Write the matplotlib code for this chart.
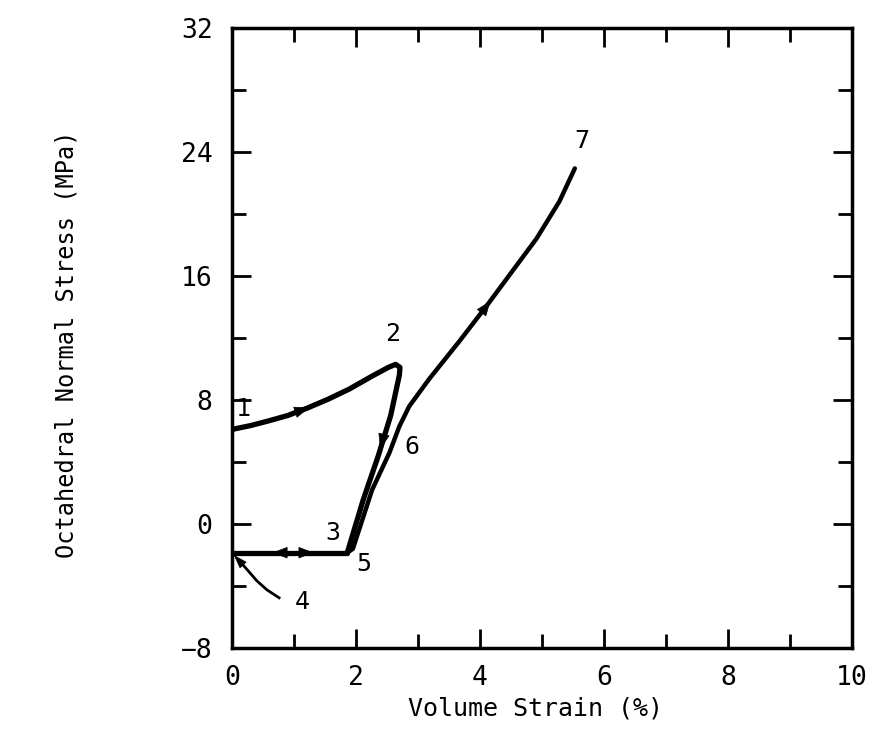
import matplotlib
matplotlib.use('Agg')
import matplotlib.pyplot as plt
from matplotlib.ticker import MultipleLocator

# loading path 1 -> 2 -> 3
load_x = [0.0, 0.3, 0.57, 0.9, 1.21, 1.55, 1.89, 2.26, 2.52, 2.64, 2.71, 2.70, 2.56, 2.36, 2.12, 1.86]
load_y = [6.1, 6.35, 6.63, 7.0, 7.47, 8.05, 8.7, 9.54, 10.1, 10.3, 10.1, 9.6, 7.0, 4.4, 1.6, -1.85]

# unloading 3 -> 4, reloading 4 -> 5 along the same line
flat_x = [1.86, 0.0]
flat_y = [-1.85, -1.85]

# reloading 5 -> 6 -> 7
reload_x = [1.86, 1.95, 2.26, 2.54, 2.70, 2.86, 3.18, 3.67, 4.15, 4.52, 4.91, 5.28, 5.53]
reload_y = [-1.85, -1.6, 2.2, 4.6, 6.3, 7.6, 9.35, 11.8, 14.3, 16.3, 18.4, 20.8, 22.94]

# leader pointing at 4
lead_x = [0.76, 0.565, 0.40, 0.275, 0.16]
lead_y = [-4.76, -4.25, -3.66, -3.08, -2.56]

pt_labels = ['1', '2', '3', '4', '5', '6', '7']
pt_x = [0.18, 2.59, 1.62, 1.13, 2.13, 2.90, 5.64]
pt_y = [7.4, 12.26, -0.55, -5.0, -2.6, 5.0, 24.7]

# arrow heads: (x, y, dx, dy)
arrows = [
    (1.05, 7.25, 0.2, 0.27),
    (2.44, 5.6, -0.05, -0.75),
    (0.85, -1.85, -0.2, 0.0),
    (1.12, -1.85, 0.2, 0.0),
    (4.03, 13.65, 0.14, 0.75),
]

plt.rcParams['font.family'] = 'DejaVu Sans Mono'

fig = plt.figure(figsize=(8.74, 7.40), dpi=100)
ax = fig.add_axes([0.2654, 0.1243, 0.7094, 0.8379])

ax.plot(load_x, load_y, color='black', lw=3.8, solid_capstyle='round', solid_joinstyle='round')
ax.plot(flat_x, flat_y, color='black', lw=3.8, solid_capstyle='round')
ax.plot(reload_x, reload_y, color='black', lw=3.2, solid_capstyle='round', solid_joinstyle='round')
ax.plot(lead_x, lead_y, color='black', lw=2.0)

head = '-|>,head_length=1.0,head_width=0.38'
for x, y, dx, dy in arrows:
    ax.annotate('', xy=(x + dx, y + dy), xytext=(x, y),
                arrowprops=dict(arrowstyle=head, color='black', lw=0.5,
                                shrinkA=0, shrinkB=0))
ax.annotate('', xy=(0.03, -2.0), xytext=(0.16, -2.56),
            arrowprops=dict(arrowstyle='-|>,head_length=0.9,head_width=0.3',
                            color='black', lw=0.5, shrinkA=0, shrinkB=0))

for s, x, y in zip(pt_labels, pt_x, pt_y):
    ax.text(x, y, s, fontsize=18, ha='center', va='center')

ax.set_xlim(0, 10)
ax.set_ylim(-8, 32)
ax.xaxis.set_major_locator(MultipleLocator(2))
ax.xaxis.set_minor_locator(MultipleLocator(1))
ax.yaxis.set_major_locator(MultipleLocator(8))
ax.yaxis.set_minor_locator(MultipleLocator(4))
ax.tick_params(which='both', direction='in', top=True, right=True, width=2, labelsize=19)
ax.tick_params(which='major', length=14)
ax.tick_params(which='minor', length=10)
ax.tick_params(axis='x', pad=12)
ax.tick_params(axis='y', pad=14)
for sp in ax.spines.values():
    sp.set_linewidth(2.5)

ax.set_xlabel('Volume Strain (%)', fontsize=18)
ax.xaxis.set_label_coords(0.49, -0.078)
ax.xaxis.label.set_va('top')
ax.set_ylabel('Octahedral Normal Stress (MPa)', fontsize=17)
ax.yaxis.set_label_coords(-0.248, 0.49)

fig.savefig('out.png', dpi=100)
